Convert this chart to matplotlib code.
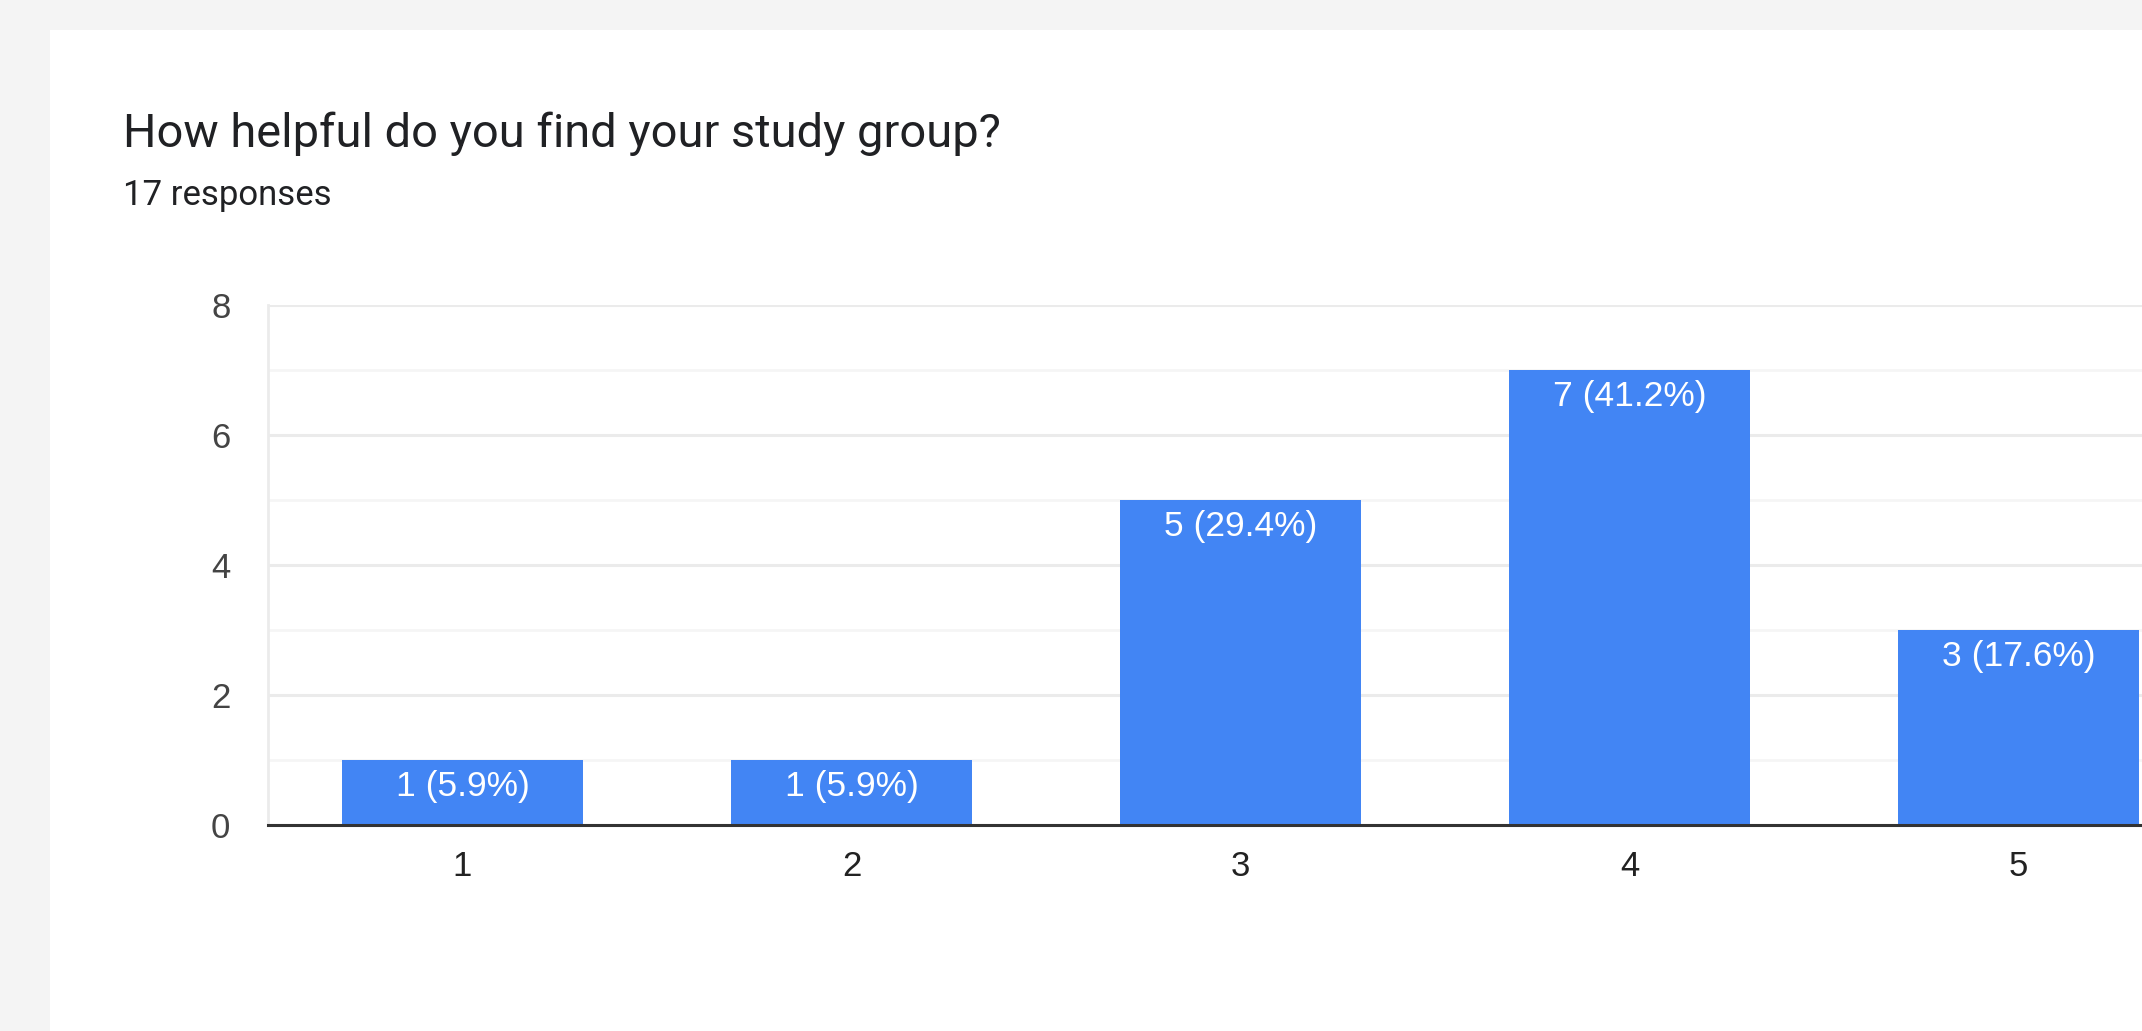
import matplotlib
matplotlib.use("Agg")
import matplotlib.pyplot as plt
from matplotlib.patches import Rectangle
from matplotlib.ticker import MultipleLocator

# ---- data ----
title = "How helpful do you find your study group?"
subtitle = "17 responses"
categories = ["1", "2", "3", "4", "5"]
counts = [1, 1, 5, 7, 3]
percents = [5.9, 5.9, 29.4, 41.2, 17.6]
y_ticks = [0, 2, 4, 6, 8]

W, H = 2142, 1031
fig = plt.figure(figsize=(W / 100, H / 100), dpi=100)
fig.patch.set_facecolor("#f4f4f4")

# white card
fig.patches.append(Rectangle((50 / W, 0), 1.0, 1 - 30 / H, transform=fig.transFigure,
                             facecolor="white", edgecolor="none", zorder=-10))

fig.text(123 / W, 1 - 147 / H, title, fontsize=33.8, family="Roboto",
         color="#202124", va="baseline", ha="left")
fig.text(123 / W, 1 - 205 / H, subtitle, fontsize=25, family="Roboto",
         color="#202124", va="baseline", ha="left")

left = 268 / W
bottom = 1 - 825 / H
height = (825 - 305) / H
width = 5 * 389 / W
ax = fig.add_axes([left, bottom, width, height])
ax.set_facecolor("white")

x = list(range(1, len(categories) + 1))
bars = ax.bar(x, counts, width=0.617, color="#4285f4", zorder=3)

for xi, c, p in zip(x, counts, percents):
    ax.annotate(f"{c} ({p}%)", xy=(xi, c), xytext=(0, -19), textcoords="offset points",
                ha="center", va="center", color="white", fontsize=25.5,
                family="Liberation Sans", zorder=4)

ax.set_xlim(0.5, len(categories) + 0.5)
ax.set_ylim(0, 8)
ax.set_xticks(x)
ax.set_xticklabels(categories, fontsize=25, family="Liberation Sans", color="#222222")
ax.set_yticks(y_ticks)
ax.set_yticklabels([str(t) for t in y_ticks], fontsize=25, family="Liberation Sans",
                   color="#444444")
ax.yaxis.set_minor_locator(MultipleLocator(1))
ax.tick_params(axis="both", which="both", length=0)
ax.tick_params(axis="y", pad=27)
ax.tick_params(axis="x", pad=18)

ax.grid(axis="y", which="major", color="#ebebeb", linewidth=2.2, zorder=1)
ax.grid(axis="y", which="minor", color="#f5f5f5", linewidth=2.0, zorder=1)
ax.grid(axis="x", visible=False)
ax.set_axisbelow(True)

for s in ["top", "right"]:
    ax.spines[s].set_visible(False)
ax.spines["left"].set_color("#ebebeb")
ax.spines["left"].set_linewidth(2)
ax.spines["bottom"].set_color("#333333")
ax.spines["bottom"].set_linewidth(2.2)
ax.spines["bottom"].set_zorder(5)

fig.savefig("out.png", dpi=100, facecolor=fig.get_facecolor())
